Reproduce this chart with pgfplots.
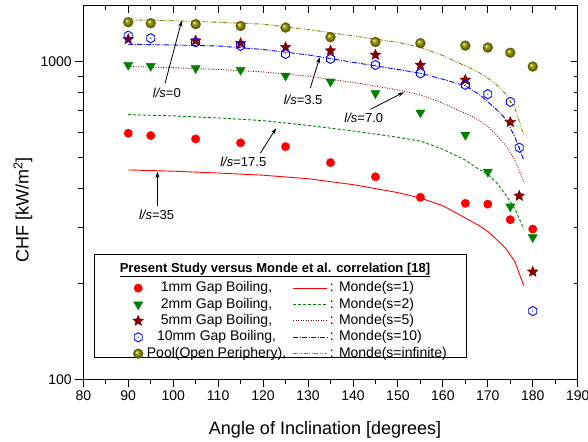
\documentclass[border=0pt]{standalone}
\usepackage{fontspec}
\setmainfont{Liberation Sans}
\usepackage{pgfplots}
\pgfplotsset{compat=1.18}
\usetikzlibrary{arrows.meta}

\definecolor{cred}{RGB}{255,0,0}
\definecolor{cgreen}{RGB}{0,128,0}
\definecolor{cmaroon}{RGB}{128,0,0}
\definecolor{cblue}{RGB}{0,0,255}
\definecolor{colive}{RGB}{128,128,0}
\definecolor{cball}{RGB}{170,170,30}

% filled five point star
\pgfdeclareplotmark{fstar}{%
  \pgfpathmoveto{\pgfpointpolar{90}{\pgfplotmarksize}}%
  \pgfpathlineto{\pgfpointpolar{126}{0.45\pgfplotmarksize}}%
  \pgfpathlineto{\pgfpointpolar{162}{\pgfplotmarksize}}%
  \pgfpathlineto{\pgfpointpolar{198}{0.45\pgfplotmarksize}}%
  \pgfpathlineto{\pgfpointpolar{234}{\pgfplotmarksize}}%
  \pgfpathlineto{\pgfpointpolar{270}{0.45\pgfplotmarksize}}%
  \pgfpathlineto{\pgfpointpolar{306}{\pgfplotmarksize}}%
  \pgfpathlineto{\pgfpointpolar{342}{0.45\pgfplotmarksize}}%
  \pgfpathlineto{\pgfpointpolar{18}{\pgfplotmarksize}}%
  \pgfpathlineto{\pgfpointpolar{54}{0.45\pgfplotmarksize}}%
  \pgfpathclose
  \pgfusepathqfillstroke}
% open hexagon with a centre dot
\pgfdeclareplotmark{hexdot}{%
  \pgfpathmoveto{\pgfpointpolar{90}{\pgfplotmarksize}}%
  \pgfpathlineto{\pgfpointpolar{150}{\pgfplotmarksize}}%
  \pgfpathlineto{\pgfpointpolar{210}{\pgfplotmarksize}}%
  \pgfpathlineto{\pgfpointpolar{270}{\pgfplotmarksize}}%
  \pgfpathlineto{\pgfpointpolar{330}{\pgfplotmarksize}}%
  \pgfpathlineto{\pgfpointpolar{30}{\pgfplotmarksize}}%
  \pgfpathclose
  \pgfusepathqstroke
  \pgfpathcircle{\pgfpointorigin}{0.6pt}%
  \pgfusepathqfill}
% shaded sphere
\pgfdeclareplotmark{sphere}{%
  \pgfpathcircle{\pgfpointorigin}{\pgfplotmarksize}%
  \pgfshadepath{sphereshade}{0}%
  \pgfusepathqstroke}
\pgfdeclareradialshading{sphereshade}{\pgfpoint{-0.35cm}{0.35cm}}{%
  color(0cm)=(white); color(0.25cm)=(cball); color(0.7cm)=(colive!75!black); color(1cm)=(colive!60!black)}

% legend sample: a short line in a given colour and dash
\newcommand\legline[2]{%
  \pgfsetcolor{#1}\pgfsetlinewidth{1pt}#2%
  \pgfpathmoveto{\pgfpoint{0pt}{0pt}}\pgfpathlineto{\pgfpoint{34pt}{0pt}}%
  \pgfusepath{stroke}}
\newcommand\legfont{\fontsize{14}{16}\selectfont}
\newcommand\notefont{\fontsize{13}{15}\selectfont}

\begin{document}
\begin{tikzpicture}
\begin{axis}[
  name=ax,
  scale only axis,
  width=494.4pt, height=373.6pt,
  xmin=80, xmax=190, ymin=100, ymax=1500,
  ymode=log,
  xtick={80,90,...,190},
  minor xtick={85,95,...,185},
  ytick={100,1000}, yticklabels={100,1000},
  minor ytick={200,300,400,500,600,700,800,900},
  xtick pos=bottom, ytick pos=left,
  tick align=outside,
  major tick length=8pt, minor tick length=5pt,
  every tick/.style={black, line width=0.9pt},
  axis line style={line width=1pt},
  /pgf/number format/assume math mode=true,
  tick label style={font=\fontsize{14}{16}\selectfont},
  xlabel={Angle of Inclination [degrees]},
  ylabel={CHF [kW/m\textsuperscript{2}]},
  xlabel style={font=\fontsize{18}{20}\selectfont, at={(axis description cs:0.489,-0.147)}, anchor=base},
  ylabel style={font=\fontsize{18}{20}\selectfont, at={(axis description cs:-0.122,0.453)}, anchor=center},
  legend columns=2,
  legend cell align=left,
  legend style={at={(axis description cs:0.0999,0.262)}, anchor=north west,
    draw=none, fill=none, inner sep=0pt, column sep=0pt, row sep=3.4pt,
    nodes={font=\legfont, inner sep=0pt, text height=10pt, text depth=3pt}},
]
% 1 mm gap
\addplot[only marks, mark=*, mark size=4.2pt, draw=cred, fill=cred] coordinates {
  (90,595) (95,585) (105,571) (115,555) (125,540) (135,481)
  (145,434) (155,374) (165,358) (170,356) (175,318) (180,297)};
\addlegendentry{\legfont\makebox[146pt][c]{1mm Gap Boiling,}\hspace*{3pt}}
\addplot[draw=cred, line width=0.9pt,
  legend image code/.code={\legline{cred}{}}] coordinates {
  (90,456) (100,452) (110,446) (120,439) (130,428) (140,410) (150,387)
  (155,372) (160,352) (165,322) (168,305) (170,292) (172,275) (174,258)
  (176,235) (178,197)};
\addlegendentry{\legfont\hspace*{2.4pt}: Monde(s=1)}
% 2 mm gap
\addplot[only marks, mark=triangle*, mark size=5.3pt, mark options={rotate=180}, draw=cgreen, fill=cgreen] coordinates {
  (90,976) (95,969) (105,953) (115,941) (125,903) (135,865)
  (145,795) (155,691) (165,588) (170,450) (175,350) (180,280)};
\addlegendentry{\legfont\makebox[146pt][c]{2mm Gap Boiling,}\hspace*{3pt}}
\addplot[draw=cgreen, line width=0.9pt, dash pattern=on 3pt off 2pt,
  legend image code/.code={\legline{cgreen}{\pgfsetdash{{3pt}{2pt}}{0pt}}}] coordinates {
  (90,681) (100,675) (110,665) (120,652) (130,630) (140,605) (150,578)
  (155,562) (160,530) (165,490) (168,458) (170,443) (172,415) (174,380)
  (176,345) (178,297)};
\addlegendentry{\legfont\hspace*{2.4pt}: Monde(s=2)}
% 5 mm gap
\addplot[only marks, mark=fstar, mark size=5.6pt, draw=cmaroon, fill=cmaroon] coordinates {
  (90,1176) (105,1164) (115,1143) (125,1110) (135,1083) (145,1050)
  (155,976) (165,876) (175,645) (177,378) (180,218)};
\addlegendentry{\legfont\makebox[146pt][c]{5mm Gap Boiling,}\hspace*{3pt}}
\addplot[draw=cmaroon, line width=0.9pt, dash pattern=on 0.9pt off 1.6pt,
  legend image code/.code={\legline{cmaroon}{\pgfsetdash{{0.9pt}{1.6pt}}{0pt}}}] coordinates {
  (90,965) (100,957) (110,945) (120,928) (130,900) (140,860) (150,815)
  (155,786) (160,740) (165,688) (168,655) (170,625) (172,585) (174,545)
  (176,490) (178,419)};
\addlegendentry{\legfont\hspace*{2.4pt}: Monde(s=5)}
% 10 mm gap
\addplot[only marks, mark=hexdot, mark size=4.6pt, draw=cblue, fill=cblue, line width=0.9pt] coordinates {
  (90,1207) (95,1185) (105,1151) (115,1121) (125,1057) (135,1020)
  (145,976) (155,919) (165,845) (170,790) (175,747) (177,536) (180,164)};
\addlegendentry{\legfont\makebox[146pt][c]{10mm Gap Boiling,}\hspace*{3pt}}
\addplot[draw=cblue, line width=0.9pt, dash pattern=on 5pt off 1.5pt on 1pt off 1.5pt,
  legend image code/.code={\legline{cblue}{\pgfsetdash{{5pt}{1.5pt}{1pt}{1.5pt}}{0pt}}}] coordinates {
  (90,1134) (100,1128) (110,1120) (120,1092) (130,1050) (140,995) (150,945)
  (155,919) (160,880) (165,839) (168,790) (170,748) (172,705) (174,660)
  (176,580) (178,490)};
\addlegendentry{\legfont\hspace*{2.4pt}: Monde(s=10)}
% pool
\addplot[only marks, mark=sphere, mark size=5pt, draw=colive!60!black, line width=0.2pt] coordinates {
  (90,1331) (95,1321) (105,1312) (115,1295) (125,1280) (135,1194)
  (145,1153) (155,1143) (165,1123) (170,1107) (175,1067) (180,965)};
\addlegendentry{\legfont\makebox[146pt][c]{Pool(Open Periphery),}\hspace*{3pt}}
\addplot[draw=colive, line width=0.9pt, dash pattern=on 4pt off 1.5pt on 1pt off 1.5pt on 1pt off 1.5pt,
  legend image code/.code={\legline{colive}{\pgfsetdash{{4pt}{1.5pt}{1pt}{1.5pt}{1pt}{1.5pt}}{0pt}}}] coordinates {
  (90,1353) (100,1345) (110,1330) (120,1312) (130,1262) (140,1205) (150,1150)
  (155,1110) (160,1045) (165,969) (168,925) (170,887) (172,845) (174,790)
  (176,715) (178,588)};
\addlegendentry{\legfont\hspace*{2.4pt}: Monde(s=infinite)}

% annotations
\begin{scope}[every node/.style={font=\notefont, inner sep=1pt}]
\draw[-{Stealth[length=6pt,width=4pt]}, line width=0.8pt] (axis cs:98.2,855) -- (axis cs:101.9,1346);
\node at (axis cs:98.6,799) {\textit{l/s}=0};
\draw[-{Stealth[length=6pt,width=4pt]}, line width=0.8pt] (axis cs:130.5,825) -- (axis cs:132.6,1032);
\node at (axis cs:128.9,758) {\textit{l/s}=3.5};
\draw[-{Stealth[length=6pt,width=4pt]}, line width=0.8pt] (axis cs:143.9,708) -- (axis cs:151.3,801);
\node at (axis cs:142.4,663) {\textit{l/s}=7.0};
\draw[-{Stealth[length=6pt,width=4pt]}, line width=0.8pt] (axis cs:119.4,515) -- (axis cs:122.9,617);
\node at (axis cs:115.6,484) {\textit{l/s}=17.5};
\draw[-{Stealth[length=6pt,width=4pt]}, line width=0.8pt] (axis cs:96.5,350) -- (axis cs:96.5,450);
\node at (axis cs:96.3,329) {\textit{l/s}=35};
\end{scope}
% legend frame and title
\draw[line width=0.9pt] (rel axis cs:0.0216,0.0589) rectangle (rel axis cs:0.7741,0.3346);
\node[font=\notefont\bfseries] at (rel axis cs:0.3877,0.2928) {\underline{Present Study versus Monde et al. correlation [18]}};
\end{axis}
\begin{axis}[
  scale only axis,
  width=494.4pt, height=373.6pt,
  xmin=80, xmax=190, ymin=100, ymax=1500,
  ymode=log,
  xtick={80,90,...,190},
  minor xtick={85,95,...,185},
  ytick={100,1000},
  minor ytick={200,300,400,500,600,700,800,900},
  xtick pos=top, ytick pos=right,
  tick align=inside,
  major tick length=7pt, minor tick length=4pt,
  every tick/.style={black, line width=0.9pt},
  axis line style={line width=1pt},
  xticklabels={}, yticklabels={},
]
\end{axis}
\pgfresetboundingbox
\path[use as bounding box] ([xshift=-83.3pt,yshift=-61.7pt]ax.south west) rectangle ([xshift=10.3pt,yshift=5.7pt]ax.north east);
\end{tikzpicture}
\end{document}
